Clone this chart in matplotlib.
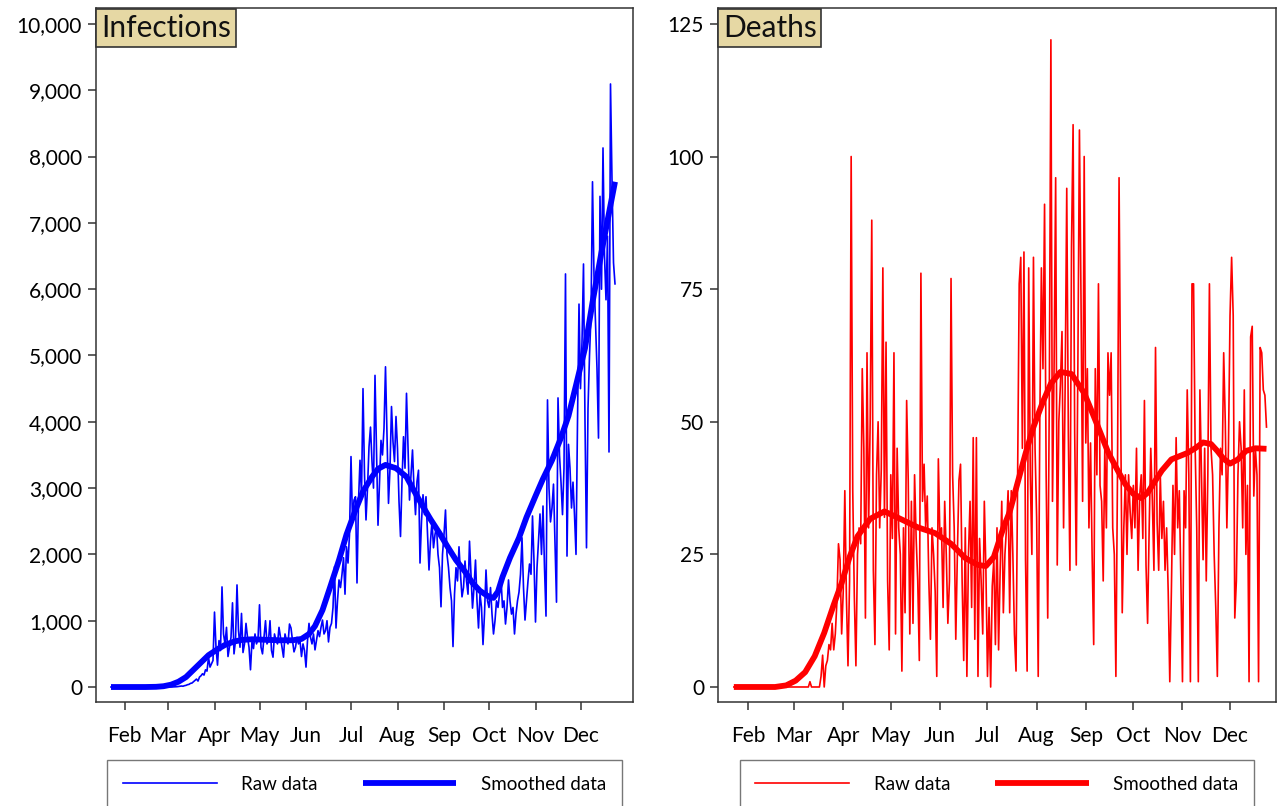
import numpy as np
import pandas as pd
import matplotlib
matplotlib.use('Agg')
import matplotlib.pyplot as plt
from matplotlib.ticker import FuncFormatter

plt.rcParams['font.family'] = ['Lato', 'DejaVu Sans']

# daily raw data, 2020-01-23 .. 2020-12-24
dates = pd.date_range('2020-01-23', '2020-12-24', freq='D')

inf_jan = [0] * 9
inf_feb = [0] * 29
inf_mar = [0, 0, 0, 1, 2, 3, 5, 8, 10, 15, 12, 20, 25, 35, 40, 55, 60, 80, 100, 120,
           90, 150, 170, 200, 180, 260, 240, 450, 300, 350, 400]
inf_apr = [1130, 600, 330, 700, 550, 1510, 800, 650, 900, 460, 600, 750, 1270, 500, 700,
           1540, 850, 600, 1110, 520, 650, 960, 750, 600, 260, 700, 580, 800, 650, 720]
inf_may = [1240, 600, 500, 750, 1000, 650, 700, 1000, 550, 450, 800, 700, 650, 900, 750,
           600, 450, 800, 700, 650, 950, 890, 700, 530, 600, 750, 650, 700, 460, 650, 550]
inf_jun = [300, 700, 960, 750, 650, 800, 560, 700, 850, 760, 900, 1010, 800, 850, 1000,
           680, 900, 960, 1200, 1815, 890, 1300, 1615, 1500, 1700, 1950, 1400, 2115, 1870, 2300]
inf_jul = [3475, 2500, 2820, 2870, 1570, 2800, 3420, 2900, 4500, 3200, 2520, 3000, 3620,
           3920, 3400, 3000, 4700, 3600, 2440, 3100, 3720, 3500, 3900, 4830, 3800, 2770,
           3300, 4230, 3700, 3400, 4080]
inf_aug = [3600, 2800, 2270, 3100, 3775, 3300, 4430, 3600, 2820, 3200, 3575, 3000, 2600,
           3100, 3270, 1870, 2500, 2900, 2600, 2870, 2300, 1765, 2200, 2500, 2100, 2300,
           2420, 2000, 1800, 1210, 2000]
inf_sep = [2300, 2670, 2000, 1800, 1500, 1300, 610, 1400, 1800, 1600, 2115, 1700, 1360,
           1500, 1900, 1600, 1400, 2200, 1700, 1190, 1500, 1915, 1300, 890, 1400, 1200,
           640, 1100, 1765, 1300]
inf_oct = [1200, 1500, 1100, 800, 1000, 1300, 1200, 1400, 1645, 1200, 1300, 950, 1200,
           1615, 1300, 1100, 1200, 800, 1100, 1300, 1430, 1700, 2250, 1500, 1010, 1300,
           1600, 1855, 1700, 2580, 1900]
inf_nov = [980, 1800, 2200, 2610, 2000, 2730, 1800, 1070, 4330, 3000, 2490, 2700, 3060,
           2200, 1280, 4360, 3500, 3090, 2600, 3300, 6230, 1975, 3660, 3300, 2700, 3090,
           2600, 2000, 4000, 5775]
inf_dec = [4500, 5200, 6380, 4000, 2100, 4200, 5000, 5600, 7620, 6200, 5500, 4800, 3755,
           7400, 6000, 8130, 6500, 5840, 6800, 3545, 9095, 7650, 6400, 6080]

dth_jan = [0] * 9
dth_feb = [0] * 29
dth_mar = [0, 0, 0, 0, 0, 0, 0, 0, 0, 0, 1, 0, 0, 0, 0, 0, 0, 2, 6, 0,
           4, 5, 8, 7, 12, 7, 10, 16, 27, 24, 10]
dth_apr = [18, 37, 17, 4, 20, 100, 37, 17, 4, 25, 30, 27, 60, 45, 13, 63, 30, 50, 88, 22,
           8, 40, 50, 30, 41, 79, 32, 65, 20, 7]
dth_may = [40, 28, 63, 10, 45, 30, 25, 3, 30, 14, 54, 39, 10, 35, 12, 40, 28, 20, 5, 78,
           35, 42, 30, 36, 20, 9, 30, 25, 18, 2, 43]
dth_jun = [28, 30, 15, 35, 25, 12, 20, 77, 40, 30, 9, 25, 39, 42, 20, 5, 30, 2, 25, 35,
           15, 47, 9, 47, 2, 28, 20, 10, 35, 22]
dth_jul = [2, 15, 0, 19, 24, 8, 30, 7, 22, 35, 14, 25, 30, 37, 14, 37, 25, 10, 3, 40,
           76, 81, 45, 82, 24, 3, 79, 40, 25, 81, 45]
dth_aug = [32, 2, 50, 79, 60, 91, 40, 13, 55, 122, 35, 60, 96, 23, 50, 57, 67, 30, 57, 94,
           48, 22, 83, 106, 48, 23, 60, 105, 73, 35, 100]
dth_sep = [46, 60, 30, 46, 25, 8, 60, 40, 76, 38, 35, 20, 45, 30, 63, 55, 63, 30, 25, 2,
           40, 96, 53, 14, 30, 40, 25, 40, 33, 28]
dth_oct = [38, 30, 45, 22, 36, 40, 28, 54, 23, 12, 30, 45, 35, 22, 64, 31, 22, 40, 28, 35,
           22, 30, 18, 1, 18, 38, 25, 47, 30, 37, 20]
dth_nov = [1, 37, 30, 56, 40, 1, 76, 76, 45, 30, 1, 56, 40, 24, 45, 20, 40, 76, 45, 40,
           25, 15, 2, 30, 45, 40, 63, 50, 30, 45]
dth_dec = [70, 81, 70, 13, 20, 40, 50, 45, 30, 56, 25, 38, 1, 66, 68, 36, 45, 40, 1, 64,
           63, 56, 55, 49]

infections = (inf_jan + inf_feb + inf_mar + inf_apr + inf_may + inf_jun + inf_jul
              + inf_aug + inf_sep + inf_oct + inf_nov + inf_dec)
deaths = (dth_jan + dth_feb + dth_mar + dth_apr + dth_may + dth_jun + dth_jul
          + dth_aug + dth_sep + dth_oct + dth_nov + dth_dec)

# smoothed curves
inf_smooth_dates = ['2020-01-23', '2020-02-01', '2020-02-15', '2020-02-22', '2020-02-27',
                    '2020-03-03', '2020-03-08', '2020-03-13', '2020-03-18', '2020-03-23',
                    '2020-03-28', '2020-04-03', '2020-04-08', '2020-04-14', '2020-04-19',
                    '2020-04-26', '2020-05-05', '2020-05-14', '2020-05-23', '2020-05-29',
                    '2020-06-03', '2020-06-07', '2020-06-12', '2020-06-17', '2020-06-23',
                    '2020-06-28', '2020-07-04', '2020-07-09', '2020-07-15', '2020-07-19',
                    '2020-07-24', '2020-07-31', '2020-08-07', '2020-08-12', '2020-08-18',
                    '2020-08-23', '2020-08-29', '2020-09-03', '2020-09-09', '2020-09-15',
                    '2020-09-20', '2020-09-25', '2020-10-01', '2020-10-04', '2020-10-07',
                    '2020-10-10', '2020-10-15', '2020-10-21', '2020-10-26', '2020-11-01',
                    '2020-11-06', '2020-11-12', '2020-11-18', '2020-11-23', '2020-11-28',
                    '2020-12-04', '2020-12-09', '2020-12-15', '2020-12-20', '2020-12-24']
inf_smooth = [0, 0, 0, 3, 12, 35, 80, 150, 260, 370, 480, 570, 635, 685, 710, 720, 712, 705,
              705, 725, 800, 920, 1160, 1500, 1915, 2300, 2670, 2950, 3170, 3290, 3350,
              3300, 3170, 2960, 2720, 2530, 2320, 2130, 1915, 1740, 1570, 1450, 1360, 1345,
              1440, 1660, 1950, 2250, 2560, 2880, 3140, 3420, 3760, 4090, 4550, 5110, 5800,
              6560, 7150, 7620]

dth_smooth_dates = ['2020-01-23', '2020-02-18', '2020-02-25', '2020-03-02', '2020-03-08',
                    '2020-03-14', '2020-03-20', '2020-03-26', '2020-03-31', '2020-04-05',
                    '2020-04-10', '2020-04-18', '2020-04-27', '2020-05-07', '2020-05-18',
                    '2020-05-29', '2020-06-08', '2020-06-17', '2020-06-25', '2020-06-30',
                    '2020-07-05', '2020-07-11', '2020-07-15', '2020-07-20', '2020-07-25',
                    '2020-07-30', '2020-08-05', '2020-08-10', '2020-08-16', '2020-08-23',
                    '2020-08-31', '2020-09-05', '2020-09-10', '2020-09-15', '2020-09-21',
                    '2020-09-26', '2020-10-01', '2020-10-06', '2020-10-10', '2020-10-14',
                    '2020-10-19', '2020-10-25', '2020-11-04', '2020-11-09', '2020-11-14',
                    '2020-11-19', '2020-11-23', '2020-11-27', '2020-12-01', '2020-12-06',
                    '2020-12-11', '2020-12-17', '2020-12-24']
dth_smooth = [0, 0, 0.3, 1.2, 2.8, 5.8, 10.2, 15.5, 19.6, 24.5, 28.4, 31.7, 33.1, 31.7,
              30.1, 29, 27, 24.3, 23, 22.8, 24.5, 30.0, 33, 38.5, 44, 49, 53.8, 57.2, 59.4,
              59, 55.4, 51.8, 48.1, 44.3, 40.9, 38.2, 36.4, 35.6, 36.6, 38.5, 40.8, 42.9,
              44.1, 45.0, 46.1, 45.8, 44.5, 43.0, 42.1, 42.9, 44.5, 45.0, 44.9]

month_ticks = pd.date_range('2020-02-01', '2020-12-01', freq='MS')
month_labels = ['Feb', 'Mar', 'Apr', 'May', 'Jun', 'Jul', 'Aug', 'Sep', 'Oct', 'Nov', 'Dec']

fig = plt.figure(figsize=(12.87, 8.06), dpi=100)
ax1 = fig.add_axes([96 / 1287, 1 - 702 / 806, 537 / 1287, 694 / 806])
ax2 = fig.add_axes([718 / 1287, 1 - 702 / 806, 558 / 1287, 694 / 806])

panels = [
    (ax1, infections, inf_smooth_dates, inf_smooth, '#0000FF', 'Infections',
     np.arange(0, 10001, 1000), (-226, 10241), ('2020-01-13', '2021-01-05')),
    (ax2, deaths, dth_smooth_dates, dth_smooth, '#FF0000', 'Deaths',
     np.arange(0, 126, 25), (-2.83, 128.0), ('2020-01-13', '2020-12-30')),
]

for ax, raw, sdates, smooth, color, name, yticks, ylim, xlim in panels:
    raw_line, = ax.plot(dates, raw, color=color, lw=1.2, label='Raw data')
    sm_line, = ax.plot(pd.to_datetime(sdates), smooth, color=color, lw=4.2,
                       solid_capstyle='butt', solid_joinstyle='round',
                       label='Smoothed data')
    ax.set_ylim(*ylim)
    ax.set_xlim(pd.Timestamp(xlim[0]), pd.Timestamp(xlim[1]))
    ax.set_yticks(yticks)
    ax.yaxis.set_major_formatter(FuncFormatter(lambda v, p: '{:,.0f}'.format(v)))
    ax.set_xticks(month_ticks)
    ax.set_xticklabels(month_labels)
    ax.tick_params(axis='both', direction='out', length=6, width=1.1, color='#333333',
                   labelsize=15)
    ax.tick_params(axis='x', pad=11)
    ax.tick_params(axis='y', pad=4)
    for sp in ax.spines.values():
        sp.set_color('#333333')
        sp.set_linewidth(1.1)
    # label box tucked into the top-left corner of the plot
    ax.annotate(name, xy=(0, 1), xycoords='axes fraction', xytext=(3.5, -4.5),
                textcoords='offset points', ha='left', va='top', fontsize=21.5,
                color='#111111',
                bbox=dict(boxstyle='square,pad=0.16', facecolor='#E6D8A4',
                          edgecolor='#333333', linewidth=1.2))
    center = ax.get_position().x0 + ax.get_position().width / 2
    fig.legend(handles=[raw_line, sm_line], loc='upper center',
               bbox_to_anchor=(center, 1 - 760 / 806), ncol=2, fontsize=13.5,
               frameon=True, fancybox=False, edgecolor='#555555', handlelength=5.0,
               handletextpad=1.3, columnspacing=2.4, borderpad=0.85,
               borderaxespad=0)

fig.savefig('out.png', dpi=100)
